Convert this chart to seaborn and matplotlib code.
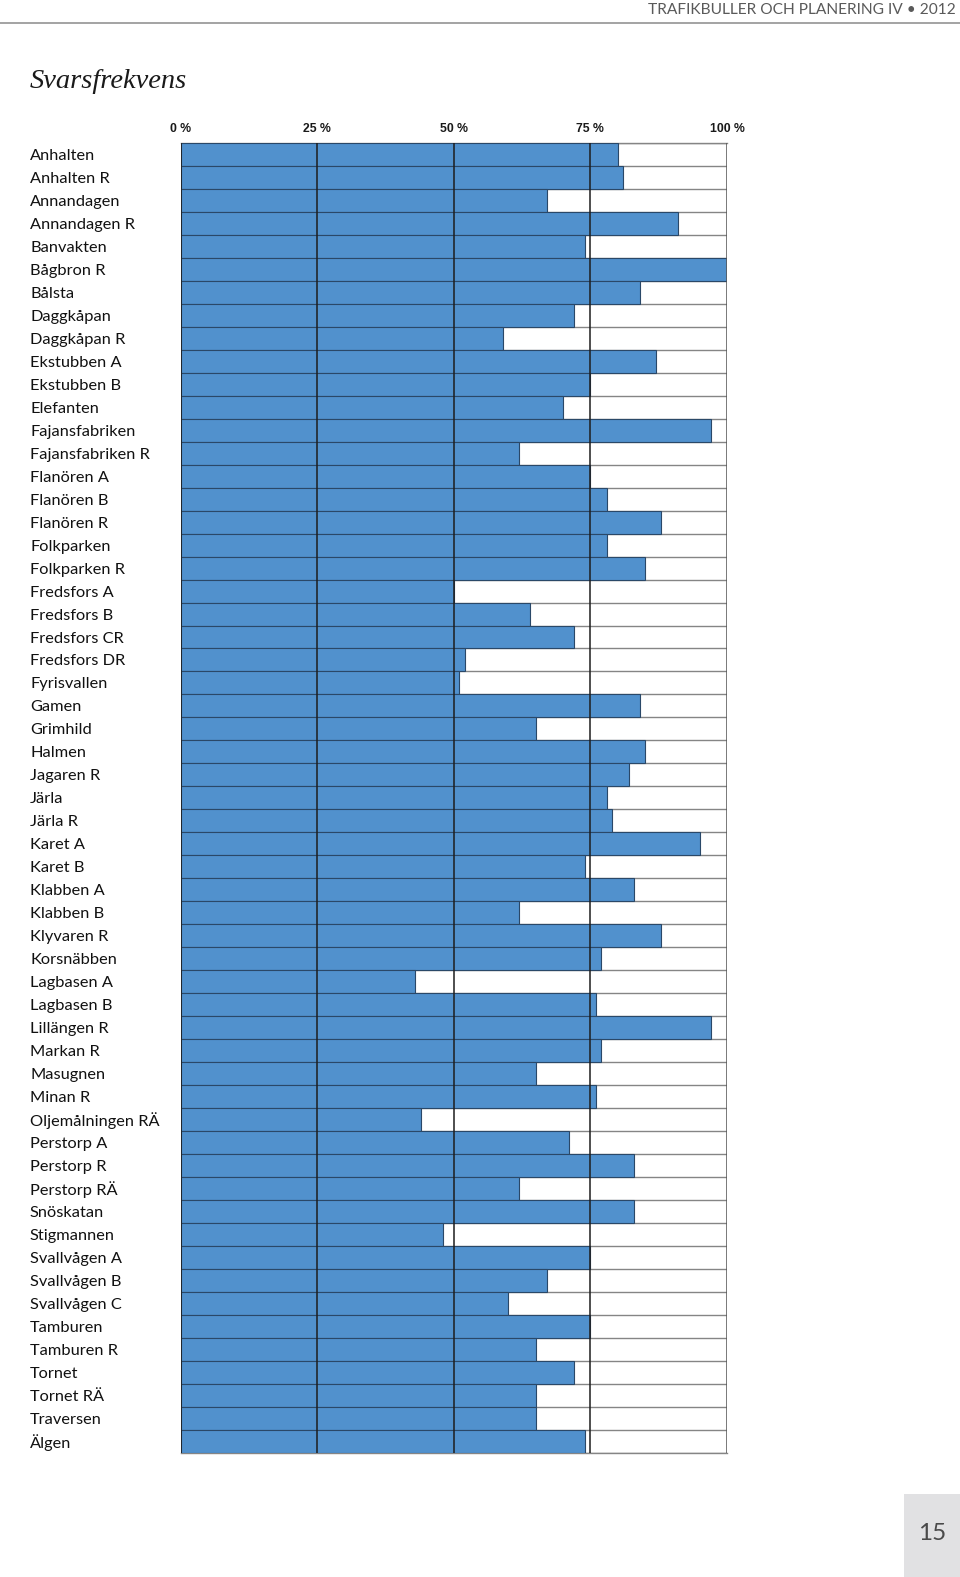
import matplotlib
matplotlib.use("Agg")
import matplotlib.pyplot as plt
from matplotlib.lines import Line2D
from matplotlib.patches import Rectangle
import seaborn as sns
import pandas as pd
import numpy as np

# ---------------- data ----------------
areas = [
    "Anhalten", "Anhalten R", "Annandagen", "Annandagen R", "Banvakten",
    "Bågbron R", "Bålsta", "Daggkåpan", "Daggkåpan R", "Ekstubben A",
    "Ekstubben B", "Elefanten", "Fajansfabriken", "Fajansfabriken R",
    "Flanören A", "Flanören B", "Flanören R", "Folkparken", "Folkparken R",
    "Fredsfors A", "Fredsfors B", "Fredsfors CR", "Fredsfors DR",
    "Fyrisvallen", "Gamen", "Grimhild", "Halmen", "Jagaren R", "Järla",
    "Järla R", "Karet A", "Karet B", "Klabben A", "Klabben B", "Klyvaren R",
    "Korsnäbben", "Lagbasen A", "Lagbasen B", "Lillängen R", "Markan R",
    "Masugnen", "Minan R", "Oljemålningen RÄ", "Perstorp A", "Perstorp R",
    "Perstorp RÄ", "Snöskatan", "Stigmannen", "Svallvågen A", "Svallvågen B",
    "Svallvågen C", "Tamburen", "Tamburen R", "Tornet", "Tornet RÄ",
    "Traversen", "Älgen",
]
response_rate = [
    80, 81, 67, 91, 74,
    100, 84, 72, 59, 87,
    75, 70, 97, 62,
    75, 78, 88, 78, 85,
    50, 64, 72, 52,
    51, 84, 65, 85, 82, 78,
    79, 95, 74, 83, 62, 88,
    77, 43, 76, 97, 77,
    65, 76, 44, 71, 83,
    62, 83, 48, 75, 67,
    60, 75, 65, 72, 65,
    65, 74,
]
tick_values = [0, 25, 50, 75, 100]
tick_labels = ["0 %", "25 %", "50 %", "75 %", "100 %"]
title = "Svarsfrekvens"
header = "TRAFIKBULLER OCH PLANERING IV • 2012"
page_number = "15"

df = pd.DataFrame({"Område": areas, "Svarsfrekvens": response_rate})

# ---------------- style ----------------
sns.set_style("white")
plt.rcParams["font.family"] = ["Lato", "DejaVu Sans"]

W, H = 960, 1577
fig = plt.figure(figsize=(W / 100, H / 100), dpi=100)
fig.patch.set_facecolor("white")

BLUE = "#5191cd"
EDGE = "#2a4868"
GRID_GREY = "#858585"
DARK = "#1e1e1e"

left_px, right_px = 180.5, 727.0
top_px, bottom_px = 143.0, 1452.7
ax = fig.add_axes([left_px / W, 1 - bottom_px / H,
                   (right_px - left_px) / W, (bottom_px - top_px) / H])
ax.set_facecolor("white")

n = len(areas)
sns.barplot(data=df, x="Svarsfrekvens", y="Område", orient="h",
            color=BLUE, saturation=1, width=1.0,
            edgecolor=EDGE, linewidth=0.8, ax=ax, zorder=3)

ax.set_xlim(0, 100)
ax.set_ylim(n - 0.5, -0.5)
ax.set_xlabel("")
ax.set_ylabel("")

# row separators (grey in white area)
ax.set_yticks(np.arange(n + 1) - 0.5, minor=True)
ax.grid(False)
ax.grid(which="minor", axis="y", color=GRID_GREY, linewidth=1.0, zorder=0)
ax.set_axisbelow(True)
ax.tick_params(axis="y", which="minor", length=0)

# vertical reference lines
for v in tick_values[:-1]:
    ax.axvline(v, color=DARK, linewidth=1.1, zorder=5)
ax.axvline(100, color="#555555", linewidth=1.1, zorder=5)

for side in ["left", "right"]:
    ax.spines[side].set_visible(False)
for side in ["top", "bottom"]:
    ax.spines[side].set_color(GRID_GREY)
    ax.spines[side].set_linewidth(1.0)
    ax.spines[side].set_zorder(2)

# x ticks on top
ax.xaxis.tick_top()
ax.set_xticks(tick_values)
ax.set_xticklabels(tick_labels, fontfamily=["Liberation Sans", "DejaVu Sans"],
                   fontweight="bold", fontsize=8.8, color="#1a1a1a")
ax.tick_params(axis="x", length=0, pad=6)

# y labels left-aligned at x=30px
ax.tick_params(axis="y", which="major", length=0, pad=(left_px - 30) * 0.72)
for lab in ax.get_yticklabels():
    lab.set_horizontalalignment("left")
    lab.set_verticalalignment("center_baseline")
    lab.set_fontsize(11.8)
    lab.set_color("#111111")

# ---------------- page decorations ----------------
fig.text(956 / W, 1 - 10 / H, header, ha="right", va="center",
         fontsize=11.2, fontweight="normal", color="#5a5a5a")
fig.add_artist(Line2D([0, 1], [1 - 22.5 / H, 1 - 22.5 / H],
                      transform=fig.transFigure, color="#8a8a8a", linewidth=1.1))

fig.text(30 / W, 1 - 82 / H, title, ha="left", va="center",
         fontfamily=["Liberation Serif", "DejaVu Serif"], fontstyle="italic",
         fontsize=20.5, color="#1a1a1a")

fig.add_artist(Rectangle((904 / W, 0), (960 - 904) / W, (1577 - 1494) / H,
                         transform=fig.transFigure, facecolor="#e1e1e3",
                         edgecolor="none"))
fig.text(932 / W, 1 - 1533 / H, page_number, ha="center", va="center",
         fontsize=17.5, fontweight="normal", color="#4a4a4a")

fig.savefig("out.png", dpi=100, facecolor="white")
